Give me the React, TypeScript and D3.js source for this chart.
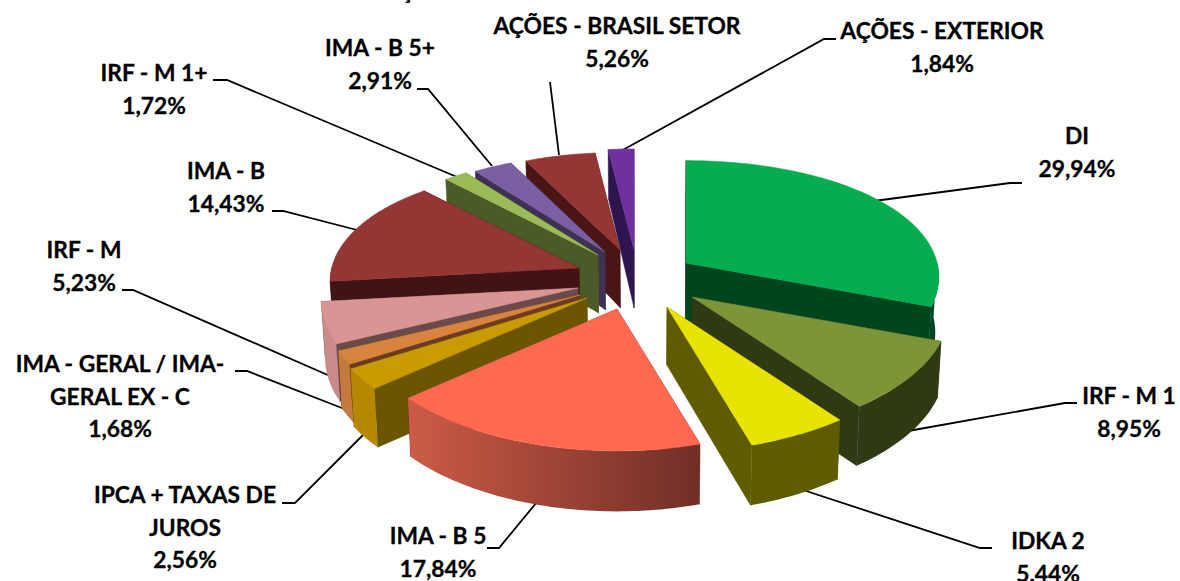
import React from "react";
import * as d3 from "d3";

const categories = ["DI","IRF - M 1","IDKA 2","IMA - B 5","IPCA + TAXAS DE JUROS","IMA - GERAL / IMA-GERAL EX - C","IRF - M","IMA - B","IRF - M 1+","IMA - B 5+","AÇÕES - BRASIL SETOR","AÇÕES - EXTERIOR"];
const shares = [29.94,8.95,5.44,17.84,2.56,1.68,5.23,14.43,1.72,2.91,5.26,1.84];
const shareLabels = ["29,94%","8,95%","5,44%","17,84%","2,56%","1,68%","5,23%","14,43%","1,72%","2,91%","5,26%","1,84%"];

// layout and style, per slice
const topColors = ["#05ac50","#7c9538","#e8e400","#fe6950","#c99b00","#d8843f","#d99594","#943634","#9bbb59","#7b5fa4","#943634","#7030a0"];
const cutColors = ["#01451f","#2f3a15","#5f5c00","#6f2e28","#6b5500","#6b3c20","#6b4a4a","#401414","#4a5a28","#3f3151","#4a1515","#2f1550"];
const wallLeft = ["#01451f","#2f3a15","#5f5c00","#cc5b46","#b58800","#c47a3c","#c98a8a","#401414","#4a5a28","#3f3151","#4a1515","#2f1550"];
const wallRight = ["#01451f","#2f3a15","#5f5c00","#702e27","#b58800","#c47a3c","#c98a8a","#401414","#4a5a28","#3f3151","#4a1515","#2f1550"];
const explodeX = [59,65,40,-10,-40,-47,-49,-48,-29,-22,-7,7];
const explodeY = [-14,20,30,32,21,18,11,-9,-22,-25,-27,-27];
const radiusK = [0.985,1,1.03,1.01,1.025,1,1,0.97,0.95,0.93,0.93,0.97];
const drawOrder = [11,10,9,8,7,6,5,4,0,1,2,3];

const labelLines: string[][] = [["DI"],["IRF - M 1"],["IDKA 2"],["IMA - B 5"],["IPCA + TAXAS DE","JUROS"],["IMA - GERAL / IMA-","GERAL EX - C"],["IRF - M"],["IMA - B"],["IRF - M 1+"],["IMA - B 5+"],["AÇÕES - BRASIL SETOR"],["AÇÕES - EXTERIOR"]];
const labelX = [1077,1129,1048,438,185,120,84,226,154,380,617,942];
const labelY = [144,404,549,544,503,372,258,179,81,56,34,39];
const leaders: [number,number][][] = [
  [[874,201],[1010,183],[1022,183]],
  [[908,431],[1065,403],[1077,403]],
  [[797,488],[980,548],[992,548]],
  [[537,502],[499,548],[487,548]],
  [[367,431],[295,503],[282,503]],
  [[347,410],[247,371],[235,371]],
  [[330,376],[133,290],[122,290]],
  [[357,230],[283,211],[272,211]],
  [[457,177],[227,80],[213,80]],
  [[492,166],[428,89],[417,89]],
  [[559,155],[550,82]],
  [[621,151],[824,39],[836,39]],
];

const W = 1180, H = 581;
const cx = 627, cy = 277, rx = 255, ry = 122, depth = 55;
const font = "Lato, 'Open Sans', sans-serif";

function project(ang: number, r: number, ox: number, oy: number): [number, number] {
  const X = Math.sin(ang) * r, Y = -Math.cos(ang) * r;
  return [cx + ox + rx * X * (1 + 0.118 * Y), cy + oy + ry * Y * (1 + 0.15 * Y)];
}
function drop(p: [number, number], Y = 0.5): [number, number] {
  const d = depth * (1 + 0.1 * Y);
  return [p[0] + (cx + 13 - p[0]) * 0.012, p[1] + d];
}
const path = (pts: [number, number][]) => d3.line()(pts) + "Z";

export default function App() {
  const arcs = d3.pie<number>().sort(null).value((d) => d)(shares);
  const polys = drawOrder.map((i) => {
    const a = arcs[i];
    const ox = explodeX[i], oy = explodeY[i], k = radiusK[i];
    const n = Math.max(4, Math.ceil((a.endAngle - a.startAngle) / 0.02));
    const angs = d3.range(n + 1).map((j) => a.startAngle + ((a.endAngle - a.startAngle) * j) / n);
    const rim = angs.map((t) => project(t, k, ox, oy));
    const apex: [number, number] = [cx + ox, cy + oy];
    const apexD = drop(apex);
    const yOf = (t: number) => -Math.cos(t);
    const s = rim[0], e = rim[rim.length - 1];
    // outer wall: only the part of the rim that faces the viewer
    const front = angs.map((t, j) => ({ t, p: rim[j] })).filter((o) => yOf(o.t) >= -0.02);
    const wall = front.length > 1
      ? path([...front.map((o) => o.p), ...front.slice().reverse().map((o) => drop(o.p, yOf(o.t)))])
      : null;
    return {
      i,
      cuts: [
        path([apex, s, drop(s, yOf(a.startAngle)), apexD]),
        path([apex, e, drop(e, yOf(a.endAngle)), apexD]),
      ],
      wall,
      x0: front.length ? d3.min(front, (o) => o.p[0])! : 0,
      x1: front.length ? d3.max(front, (o) => o.p[0])! : 1,
      top: path([apex, ...rim]),
    };
  });
  return (
    <svg width={W} height={H} viewBox={`0 0 ${W} ${H}`} style={{ position: "absolute", left: 0, top: 0, background: "#fff" }}>
      <defs>
        {polys.map((p) => (
          <linearGradient key={p.i} id={`wall${p.i}`} gradientUnits="userSpaceOnUse" x1={p.x0} x2={p.x1} y1={0} y2={0}>
            <stop offset="0" stopColor={wallLeft[p.i]} />
            <stop offset="1" stopColor={wallRight[p.i]} />
          </linearGradient>
        ))}
      </defs>
      <text x={282} y={-1} fontFamily={font} fontWeight={700} fontSize={24}>DISTRIBUIÇÃO DOS INVESTIMENTOS</text>
      {leaders.map((l, i) => (
        <polyline key={i} points={l.map((p) => p.join(",")).join(" ")} fill="none" stroke="#000" strokeWidth={1.8} />
      ))}
      {polys.map((p) => (
        <g key={p.i}>
          {p.cuts.map((d, j) => <path key={j} d={d} fill={cutColors[p.i]} stroke={cutColors[p.i]} strokeWidth={0.5} />)}
          {p.wall && <path d={p.wall} fill={`url(#wall${p.i})`} />}
          <path d={p.top} fill={topColors[p.i]} stroke={topColors[p.i]} strokeWidth={0.5} />
        </g>
      ))}
      {categories.map((c, i) => (
        <text key={c} textAnchor="middle" fontFamily={font} fontWeight={700} fontSize={22.8} fill="#000" stroke="#000" strokeWidth={0.3}>
          {[...labelLines[i], shareLabels[i]].map((t, j) => (
            <tspan key={j} x={labelX[i]} y={labelY[i] + j * 32.5}>{t}</tspan>
          ))}
        </text>
      ))}
    </svg>
  );
}
